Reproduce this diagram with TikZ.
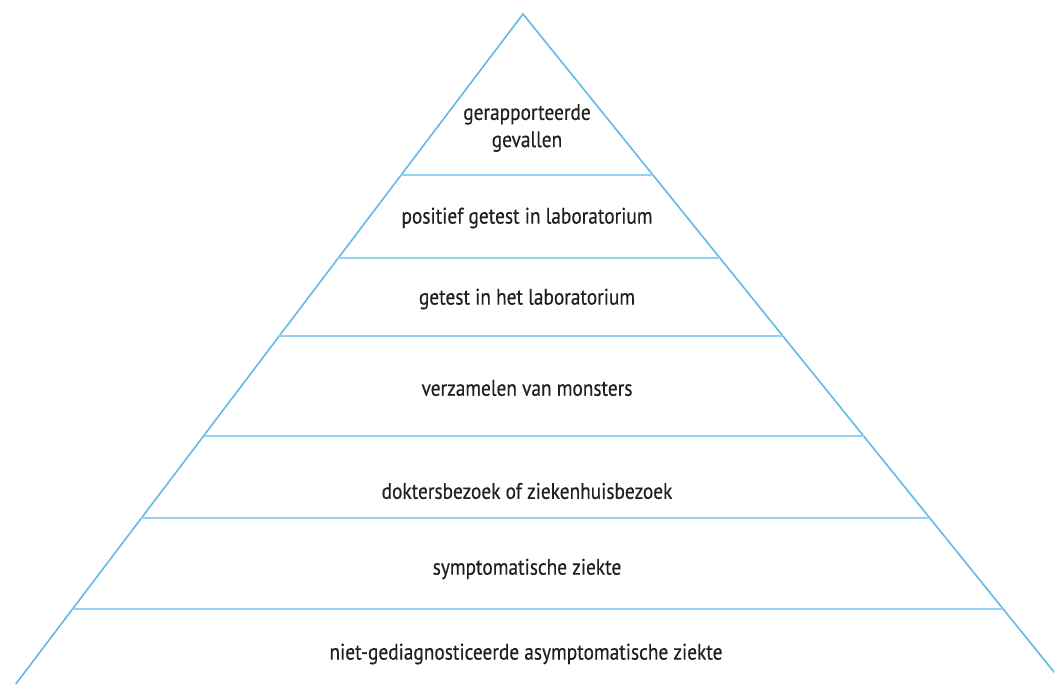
\documentclass[tikz,border=0pt]{standalone}
\usepackage{fontspec}
\setmainfont{PT Sans}[FakeStretch=0.86,FakeBold=0.4]
\usetikzlibrary{calc}
\definecolor{sideblue}{RGB}{98,185,232}
\definecolor{bandblue}{RGB}{150,208,240}
\definecolor{labeltext}{RGB}{35,31,32}

\begin{document}
\begin{tikzpicture}[x=0.02cm,y=-0.02cm]
\tikzstyle{side}=[sideblue, line width=0.9pt]
\tikzstyle{band}=[bandblue, line width=1.1pt]
\tikzstyle{label}=[text=labeltext, font=\fontsize{12.8}{15.5}\selectfont, align=center, inner sep=0pt]
\useasboundingbox (0,0) rectangle (1054,684);
\clip (0,0) rectangle (1054,684);
% pyramid outline
\coordinate (apex) at (523,14);
\coordinate (bl) at (15.8,684);
\coordinate (br) at (1063.7,684);
\draw [side] (bl) -- (apex) -- (br);
% bands
\foreach \t [count=\i] in {0.2403,0.3642,0.4806,0.6299,0.7522,0.8881} {
  \draw [band] ($(apex)!\t!(bl)$) coordinate (l\i) -- ($(apex)!\t!(br)$) coordinate (r\i);
}
% labels
\node [label] (reported) at (527,128) {gerapporteerde\\gevallen};
\node [label] (positive) at (527,218) {positief getest in laboratorium};
\node [label] (tested) at (527,299) {getest in het laboratorium};
\node [label] (samples) at (527,388) {verzamelen van monsters};
\node [label] (visit) at (527,491) {doktersbezoek of ziekenhuisbezoek};
\node [label] (symptoms) at (527,569) {symptomatische ziekte};
\node [label] (hidden) at (526,654) {niet-gediagnosticeerde asymptomatische ziekte};
\end{tikzpicture}
\end{document}
